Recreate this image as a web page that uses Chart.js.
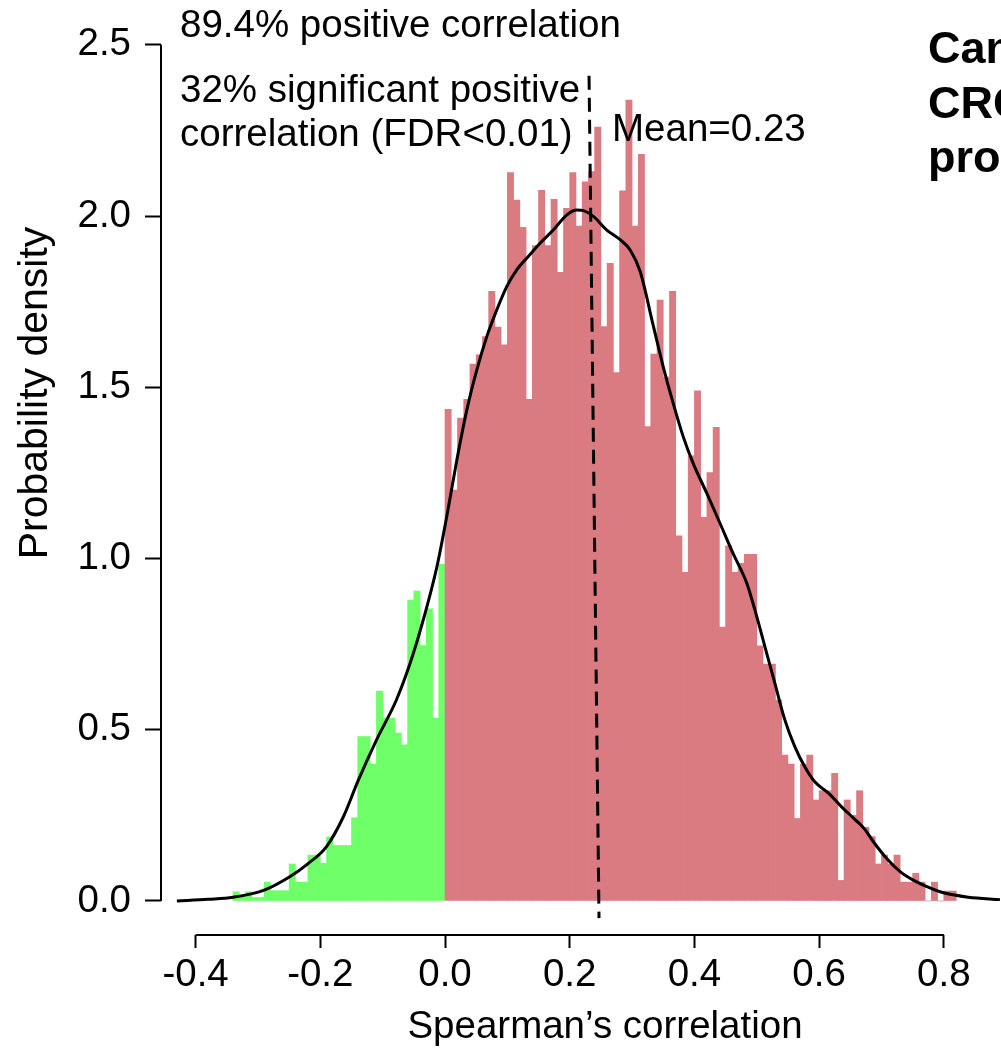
<!DOCTYPE html>
<html>
<head>
<meta charset="utf-8">
<script src="https://cdn.jsdelivr.net/npm/chart.js@4.4.1/dist/chart.umd.min.js"></script>
<style>
  html, body { margin: 0; padding: 0; background: #fff; overflow: hidden; }
  #wrap { position: absolute; left: 0; top: 0; width: 1001px; height: 1049px; }
</style>
</head>
<body>
<div id="wrap"><canvas id="c" width="1001" height="1049"></canvas></div>
<script>
// ---- Histogram bins (left edges, width 0.01) ----
const binLefts = [
  -0.34, -0.33, -0.32, -0.31, -0.30, -0.29, -0.28, -0.27, -0.26, -0.25,
  -0.24, -0.23, -0.22, -0.21, -0.20, -0.19, -0.18, -0.17, -0.16, -0.15,
  -0.14, -0.13, -0.12, -0.11, -0.10, -0.09, -0.08, -0.07, -0.06, -0.05,
  -0.04, -0.03, -0.02, -0.01,
  0.00, 0.01, 0.02, 0.03, 0.04, 0.05, 0.06, 0.07, 0.08, 0.09,
  0.10, 0.11, 0.12, 0.13, 0.14, 0.15, 0.16, 0.17, 0.18, 0.19,
  0.20, 0.21, 0.22, 0.23, 0.24, 0.25, 0.26, 0.27, 0.28, 0.29,
  0.30, 0.31, 0.32, 0.33, 0.34, 0.35, 0.36, 0.37, 0.38, 0.39,
  0.40, 0.41, 0.42, 0.43, 0.44, 0.45, 0.46, 0.47, 0.48, 0.49,
  0.50, 0.51, 0.52, 0.53, 0.54, 0.55, 0.56, 0.57, 0.58, 0.59,
  0.60, 0.61, 0.62, 0.63, 0.64, 0.65, 0.66, 0.67, 0.68, 0.69,
  0.70, 0.71, 0.72, 0.73, 0.74, 0.75, 0.76, 0.77, 0.78, 0.79,
  0.80, 0.81
];
const binWidth = 0.01;

// ---- Probability density of each bin ----
const densities = [
  0.027, 0.012, 0.027, 0.010, 0.010, 0.055, 0.030, 0.030, 0.030, 0.108,
  0.055, 0.055, 0.134, 0.134, 0.110, 0.187, 0.162, 0.162, 0.162, 0.243,
  0.480, 0.480, 0.400, 0.613, 0.534, 0.534, 0.490, 0.456, 0.879, 0.905,
  0.746, 0.853, 0.534, 0.984,
  1.436, 1.200, 1.410, 1.465, 1.568, 1.595, 1.648, 1.780, 1.676, 1.624,
  2.127, 2.047, 1.967, 1.465, 1.914, 2.075, 1.914, 2.049, 1.836, 2.023,
  2.127, 1.971, 2.100, 2.130, 2.260, 1.677, 1.862, 1.543, 2.074, 2.339,
  1.971, 2.180, 1.385, 1.597, 1.755, 1.530, 1.780, 1.066, 0.960, 1.300,
  1.490, 1.120, 1.251, 1.383, 0.800, 1.037, 0.960, 0.986, 1.012, 1.012,
  0.745, 0.692, 0.692, 0.587, 0.426, 0.400, 0.241, 0.400, 0.426, 0.295,
  0.322, 0.322, 0.373, 0.060, 0.295, 0.250, 0.322, 0.215, 0.188, 0.108,
  0.134, 0.108, 0.134, 0.055, 0.055, 0.081, 0.055, 0.000, 0.055, 0.000,
  0.029, 0.029
];

// ---- Kernel density curve ----
const kdeX = [
  -0.430, -0.380, -0.340, -0.290, -0.249, -0.219, -0.190, -0.163, -0.139, -0.110,
  -0.078, -0.056, -0.035, -0.013, 0.003, 0.019, 0.035, 0.051, 0.067, 0.083,
  0.099, 0.115, 0.136, 0.152, 0.174, 0.195, 0.211, 0.222, 0.238, 0.259,
  0.281, 0.297, 0.313, 0.334, 0.350, 0.366, 0.382, 0.398, 0.420, 0.441,
  0.462, 0.484, 0.497, 0.513, 0.529, 0.545, 0.561, 0.577, 0.593, 0.615,
  0.636, 0.658, 0.673, 0.687, 0.708, 0.730, 0.751, 0.773, 0.794, 0.815,
  0.839, 0.890
];
const kdeY = [
  0.000, 0.005, 0.011, 0.032, 0.071, 0.110, 0.159, 0.246, 0.353, 0.470,
  0.587, 0.694, 0.820, 0.976, 1.125, 1.288, 1.434, 1.551, 1.648, 1.726,
  1.794, 1.843, 1.887, 1.920, 1.960, 2.003, 2.018, 2.016, 1.999, 1.960,
  1.931, 1.901, 1.838, 1.680, 1.560, 1.453, 1.356, 1.278, 1.190, 1.103,
  1.015, 0.928, 0.850, 0.743, 0.636, 0.529, 0.451, 0.392, 0.348, 0.315,
  0.275, 0.237, 0.210, 0.173, 0.125, 0.086, 0.061, 0.042, 0.027, 0.018,
  0.011, 0.004
];

// ---- Mean marker (dashed) ----
const meanLineX = [0.231, 0.247];
const meanLineY = [2.41, -0.05];

// ---- Axis ticks ----
const xTicks = [-0.4, -0.2, 0.0, 0.2, 0.4, 0.6, 0.8];
const yTicks = [0.0, 0.5, 1.0, 1.5, 2.0, 2.5];

// ---- Texts ----
const annotations = [
  "89.4% positive correlation",
  "32% significant positive",
  "correlation (FDR<0.01)",
  "Mean=0.23"
];
const titleLines = ["Cancer", "CRC", "proteome"];
const xTitle = "Spearman\u2019s correlation";
const yTitle = "Probability density";

const RED = "rgb(218,122,129)";
const GREEN = "rgb(111,255,104)";
const FONT = '"Liberation Sans", Arial, Helvetica, sans-serif';

const histData = binLefts.map((b, i) => ({ x: b + binWidth / 2, y: densities[i] }));
const histColors = binLefts.map(b => (b < 0 ? GREEN : RED));
const kdeData = kdeX.map((x, i) => ({ x: x, y: kdeY[i] }));
const meanData = meanLineX.map((x, i) => ({ x: x, y: meanLineY[i] }));

const decorPlugin = {
  id: "decor",
  afterDraw(chart) {
    const ctx = chart.ctx;
    const xs = chart.scales.x, ys = chart.scales.y;
    ctx.save();
    // axis lines spanning the tick range (R style)
    ctx.strokeStyle = "#000";
    ctx.lineWidth = 2;
    ctx.beginPath();
    ctx.moveTo(xs.getPixelForValue(xTicks[0]), xs.top);
    ctx.lineTo(xs.getPixelForValue(xTicks[xTicks.length - 1]), xs.top);
    ctx.stroke();
    ctx.beginPath();
    ctx.moveTo(ys.right, ys.getPixelForValue(yTicks[0]));
    ctx.lineTo(ys.right, ys.getPixelForValue(yTicks[yTicks.length - 1]));
    ctx.stroke();

    ctx.fillStyle = "#000";
    ctx.textBaseline = "middle";
    ctx.textAlign = "left";
    ctx.font = "38.5px " + FONT;
    ctx.fillText(annotations[0], 180, 26);
    ctx.fillText(annotations[1], 180, 91);
    ctx.fillText(annotations[2], 180, 135);
    ctx.fillText(annotations[3], 612, 130);

    ctx.textBaseline = "alphabetic";
    ctx.font = "bold 45px " + FONT;
    ctx.fillText(titleLines[0], 928, 63);
    ctx.fillText(titleLines[1], 928, 118);
    ctx.fillText(titleLines[2], 928, 172);

    ctx.textBaseline = "middle";
    ctx.font = "38.5px " + FONT;
    ctx.textAlign = "center";
    ctx.fillText(xTitle, 605, 1027);

    ctx.font = "41px " + FONT;
    ctx.translate(36, 393);
    ctx.rotate(-Math.PI / 2);
    ctx.fillText(yTitle, 0, 0);
    ctx.restore();
  }
};

new Chart(document.getElementById("c"), {
  type: "bar",
  data: {
    datasets: [
      {
        type: "line",
        data: meanData,
        borderColor: "#000",
        borderWidth: 3,
        borderDash: [14, 8],
        pointRadius: 0,
        fill: false,
        order: 1
      },
      {
        type: "line",
        data: kdeData,
        borderColor: "#000",
        borderWidth: 3,
        pointRadius: 0,
        fill: false,
        cubicInterpolationMode: "monotone",
        order: 2
      },
      {
        type: "bar",
        data: histData,
        backgroundColor: histColors,
        borderWidth: 0,
        barPercentage: 1.0,
        categoryPercentage: 1.0,
        grouped: false,
        order: 3
      }
    ]
  },
  options: {
    responsive: false,
    animation: false,
    devicePixelRatio: 1,
    layout: { padding: 0, autoPadding: false },
    plugins: { legend: { display: false }, tooltip: { enabled: false } },
    scales: {
      x: {
        type: "linear",
        min: -0.4555,
        max: 0.8917,
        offset: false,
        afterBuildTicks: s => { s.ticks = xTicks.map(v => ({ value: v })); },
        afterFit: s => { s.height = 114; s.paddingLeft = 0; s.paddingRight = 0; },
        border: { display: false },
        grid: { offset: false, drawOnChartArea: false, drawTicks: true, tickLength: 13, tickColor: "#000", tickWidth: 2 },
        ticks: {
          color: "#000",
          font: { family: FONT, size: 38.5 },
          padding: 4,
          maxRotation: 0,
          autoSkip: false,
          callback: v => Number(v).toFixed(1)
        }
      },
      y: {
        type: "linear",
        min: -0.0993,
        max: 2.631,
        afterBuildTicks: s => { s.ticks = yTicks.map(v => ({ value: v })); },
        afterFit: s => { s.width = 161; s.paddingTop = 0; s.paddingBottom = 0; },
        border: { display: false },
        grid: { drawOnChartArea: false, drawTicks: true, tickLength: 16, tickColor: "#000", tickWidth: 2 },
        ticks: {
          color: "#000",
          font: { family: FONT, size: 38.5 },
          padding: 14,
          autoSkip: false,
          callback: v => Number(v).toFixed(1)
        }
      }
    }
  },
  plugins: [decorPlugin]
});
</script>
</body>
</html>
